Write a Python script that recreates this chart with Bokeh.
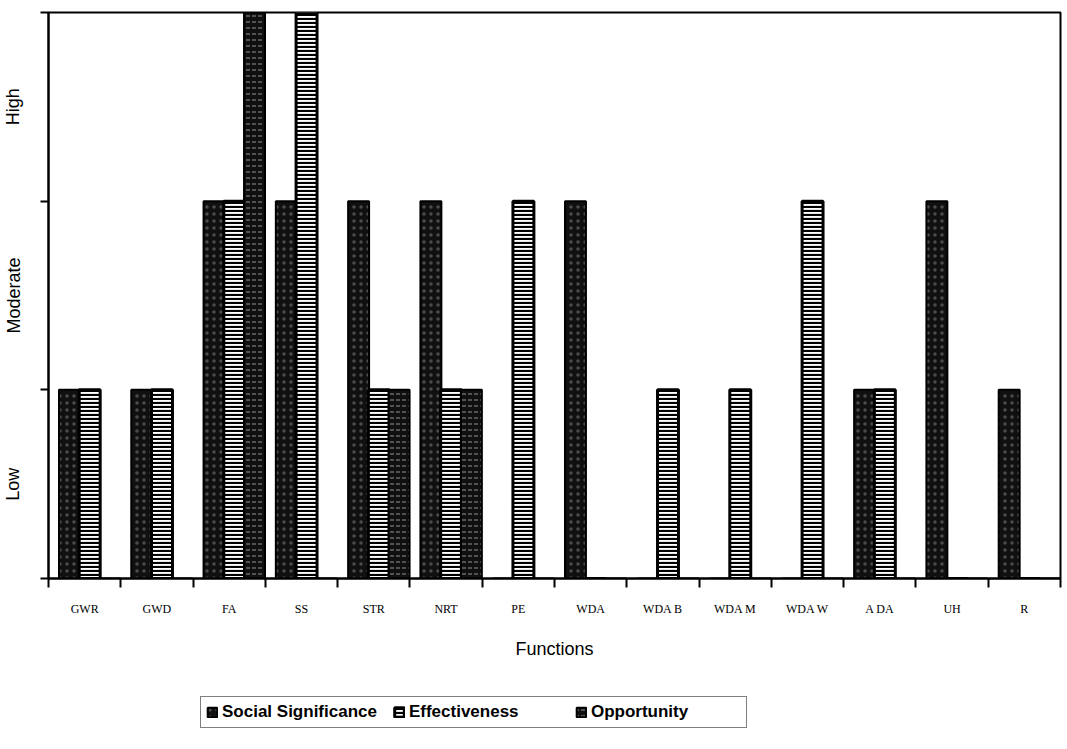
from bokeh.plotting import figure
from bokeh.layouts import column
from bokeh.models import (Range1d, LinearAxis, FixedTicker, Legend, LegendItem, ColumnDataSource)
from bokeh.transform import dodge
from bokeh.embed import file_html
from bokeh.resources import INLINE

# ---- data ----
functions = ["GWR", "GWD", "FA", "SS", "STR", "NRT", "PE", "WDA",
             "WDA B", "WDA M", "WDA W", "A DA", "UH", "R"]
level_labels = ["Low", "Moderate", "High"]
series_names = ["Social Significance", "Effectiveness", "Opportunity"]
social = [1, 1, 2, 2, 2, 2, 0, 2, 0, 0, 0, 1, 2, 1]
effectiveness = [1, 1, 2, 3, 1, 1, 2, 0, 1, 1, 2, 1, 0, 0]
opportunity = [0, 0, 3, 0, 1, 1, 0, 0, 0, 0, 0, 0, 0, 0]

n_cat = len(functions)
n_levels = len(level_labels)
centers = [i + 0.5 for i in range(n_cat)]

src = ColumnDataSource(dict(pos=centers, functions=functions, social=social,
                            effectiveness=effectiveness, opportunity=opportunity))

# bar styles per series
styles = [
    dict(fill_color="#101010", line_color="black", line_width=2,
         hatch_pattern="dot", hatch_color="white", hatch_scale=7, hatch_weight=1, hatch_alpha=0.25),
    dict(fill_color="white", line_color="black", line_width=3,
         hatch_pattern="horizontal_line", hatch_color="black", hatch_scale=4, hatch_weight=2.2),
    dict(fill_color="#101010", line_color="black", line_width=2,
         hatch_pattern="horizontal_dash", hatch_color="white", hatch_scale=6, hatch_weight=1,
         hatch_alpha=0.55),
]

p = figure(x_range=Range1d(0, n_cat), y_range=Range1d(0, n_levels),
           frame_width=1012, frame_height=566,
           x_axis_type=None, y_axis_type=None,
           output_backend="svg", toolbar_location=None,
           min_border_left=44, min_border_top=12, min_border_right=3, min_border_bottom=100,
           background_fill_color="white", border_fill_color="white")
p.outline_line_color = "black"
p.outline_line_width = 2
p.grid.visible = False

# y axis: ticks at level boundaries (minor ticks), labels centred in bands
yax = LinearAxis(
    ticker=FixedTicker(ticks=[i + 0.5 for i in range(n_levels)],
                       minor_ticks=list(range(n_levels + 1))),
    major_label_overrides={i + 0.5: lab for i, lab in enumerate(level_labels)},
    major_tick_line_color=None, major_tick_out=0, major_tick_in=0,
    minor_tick_out=8, minor_tick_in=0, minor_tick_line_width=2, minor_tick_line_color="black",
    axis_line_width=2, axis_line_color="black",
    major_label_orientation="vertical", major_label_standoff=17,
    major_label_text_font="Liberation Sans", major_label_text_font_size="18px",
    major_label_text_color="black")
p.add_layout(yax, "left")

# x axis: tick marks at group boundaries, labels at group centres
xax = LinearAxis(
    ticker=FixedTicker(ticks=centers, minor_ticks=list(range(n_cat + 1))),
    major_label_overrides={c: f for c, f in zip(centers, functions)},
    major_tick_line_color=None, major_tick_out=0, major_tick_in=0,
    minor_tick_out=9, minor_tick_in=0, minor_tick_line_width=2, minor_tick_line_color="black",
    axis_line_width=2, axis_line_color="black",
    major_label_standoff=14,
    major_label_text_font="Liberation Serif", major_label_text_font_size="12px",
    major_label_text_color="black",
    axis_label="Functions", axis_label_text_font="Liberation Sans",
    axis_label_text_font_size="18px", axis_label_text_font_style="normal",
    axis_label_text_color="black", axis_label_standoff=20)
p.add_layout(xax, "below")

# bars
w = 0.29
cols = ["social", "effectiveness", "opportunity"]
offsets = [-0.21, 0.07, 0.35]
for col, off, st in zip(cols, offsets, styles):
    p.vbar(x=dodge("pos", off), top=col, width=w, source=src, **st)

# legend strip below the chart (its renderers share the data but are not drawn)
lf = figure(width=1059, height=60, x_range=Range1d(0, n_cat), y_range=Range1d(0, n_levels),
            x_axis_type=None, y_axis_type=None, output_backend="svg", toolbar_location=None,
            min_border=0, background_fill_color="white", border_fill_color="white")
lf.outline_line_color = None
lf.grid.visible = False
items = []
for name, col, off, st in zip(series_names, cols, offsets, styles):
    r = lf.vbar(x=dodge("pos", off), top=col, width=w, source=src, **st)
    r.visible = False
    items.append(LegendItem(label=name, renderers=[r]))
legend = Legend(items=items, orientation="horizontal", location=(152, 10),
                border_line_color="black", border_line_width=1.5,
                background_fill_color="white", background_fill_alpha=1,
                label_text_font="Liberation Sans", label_text_font_style="bold",
                label_text_font_size="17px", label_text_color="black",
                label_width=150, glyph_width=12, glyph_height=12, spacing=16, padding=5,
                margin=0, label_standoff=4)
lf.add_layout(legend, "center")

layout = column(p, lf, spacing=0)
open("out.html", "w").write(file_html(layout, INLINE))
